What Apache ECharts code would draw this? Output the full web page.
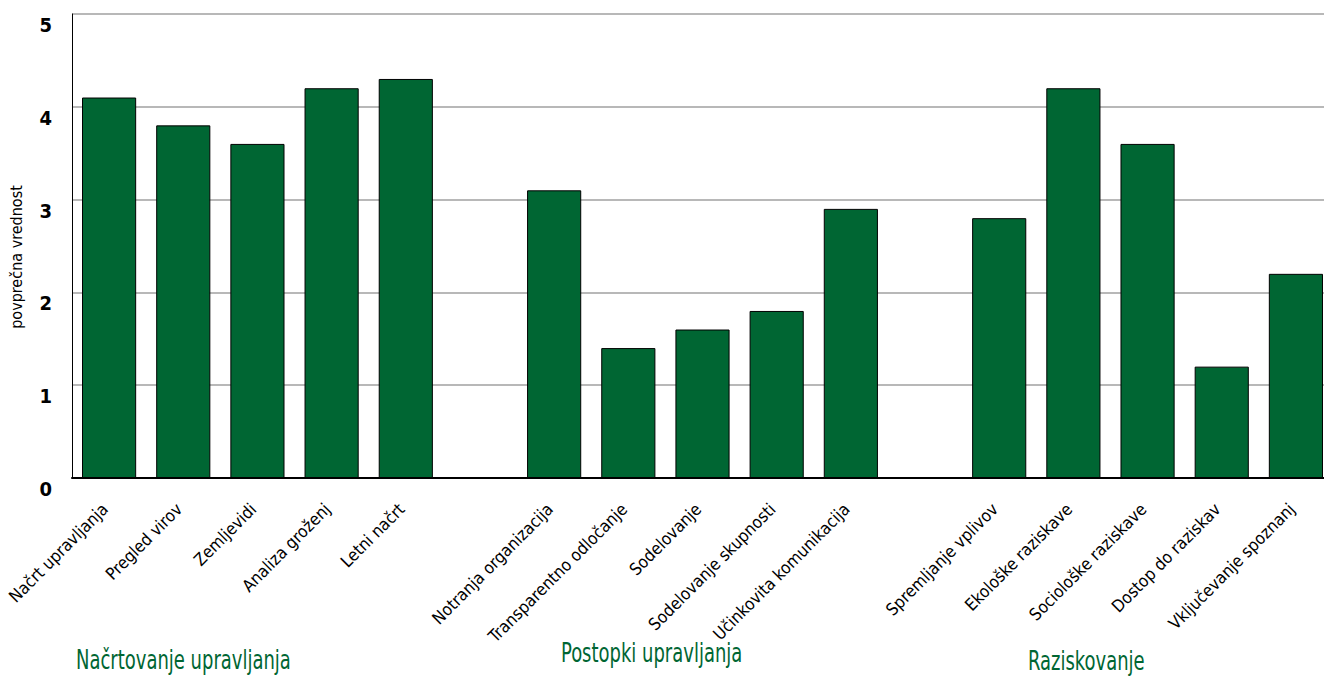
<!DOCTYPE html>
<html>
<head>
<meta charset="utf-8">
<script src="https://cdn.jsdelivr.net/npm/echarts@6/dist/echarts.min.js"></script>
<style>
  html, body { margin: 0; padding: 0; background: #fff; }
  #chartContainer { width: 1324px; height: 677px; }
</style>
</head>
<body>
<div id="chartContainer"></div>
<script>
// data
const categories = [
  'Načrt upravljanja', 'Pregled virov', 'Zemljevidi', 'Analiza groženj', 'Letni načrt',
  '',
  'Notranja organizacija', 'Transparentno odločanje', 'Sodelovanje', 'Sodelovanje skupnosti', 'Učinkovita komunikacija',
  '',
  'Spremljanje vplivov', 'Ekološke raziskave', 'Sociološke raziskave', 'Dostop do raziskav', 'Vključevanje spoznanj'
]
const values = [4.1, 3.8, 3.6, 4.2, 4.3, 0, 3.1, 1.4, 1.6, 1.8, 2.9, 0, 2.8, 4.2, 3.6, 1.2, 2.2]
const yTicks = [0, 1, 2, 3, 4, 5]
const groups = ['Načrtovanje upravljanja', 'Postopki upravljanja', 'Raziskovanje']

const font = '"DejaVu Sans Condensed", "Liberation Sans Narrow", "DejaVu Sans", sans-serif'
const green = '#006633'

var myChart = echarts.init(document.getElementById('chartContainer'), null, { renderer: 'svg' })

// group captions, drawn narrow like the original condensed face
function groupText(text, x, y) {
  return {
    type: 'text', x: x, y: y, scaleX: 0.74, scaleY: 1,
    style: { text: text, x: 0, y: 0, font: '27px ' + font, fill: green, align: 'left', verticalAlign: 'middle' }
  }
}

myChart.setOption({
  animation: false,
  grid: { left: 72, right: -9, top: 14, bottom: 199, containLabel: false, outerBoundsMode: 'none' },
  xAxis: {
    type: 'category',
    data: categories,
    axisLine: { lineStyle: { color: '#000', width: 2 } },
    axisTick: { inside: true, length: 11, lineStyle: { color: '#444' } },
    axisLabel: {
      rotate: 45, interval: 0, margin: 24,
      padding: [0, 6, 0, 0],
      fontFamily: font, fontSize: 17, color: '#000'
    }
  },
  yAxis: {
    type: 'value',
    min: yTicks[0], max: yTicks[yTicks.length - 1], interval: 1,
    name: 'povprečna vrednost',
    nameLocation: 'middle', nameGap: 48,
    nameTextStyle: { fontFamily: font, fontSize: 16, color: '#000', padding: [0, 22, 0, 0] },
    axisLine: { show: true, lineStyle: { color: '#000', width: 1 } },
    axisTick: { show: false },
    axisLabel: {
      fontFamily: font, fontSize: 20, fontWeight: 'bold', color: '#000', margin: 20,
      verticalAlign: 'top', padding: [1, 0, 0, 0]
    },
    splitLine: { lineStyle: { color: '#a0a0a0', width: 1.5 } }
  },
  series: [{
    type: 'bar',
    data: values,
    barCategoryGap: '27%',
    itemStyle: { color: green, borderColor: '#000', borderWidth: 1 }
  }],
  graphic: [
    groupText(groups[0], 76, 660),
    groupText(groups[1], 561, 653),
    groupText(groups[2], 1028, 661)
  ]
})
</script>
</body>
</html>
